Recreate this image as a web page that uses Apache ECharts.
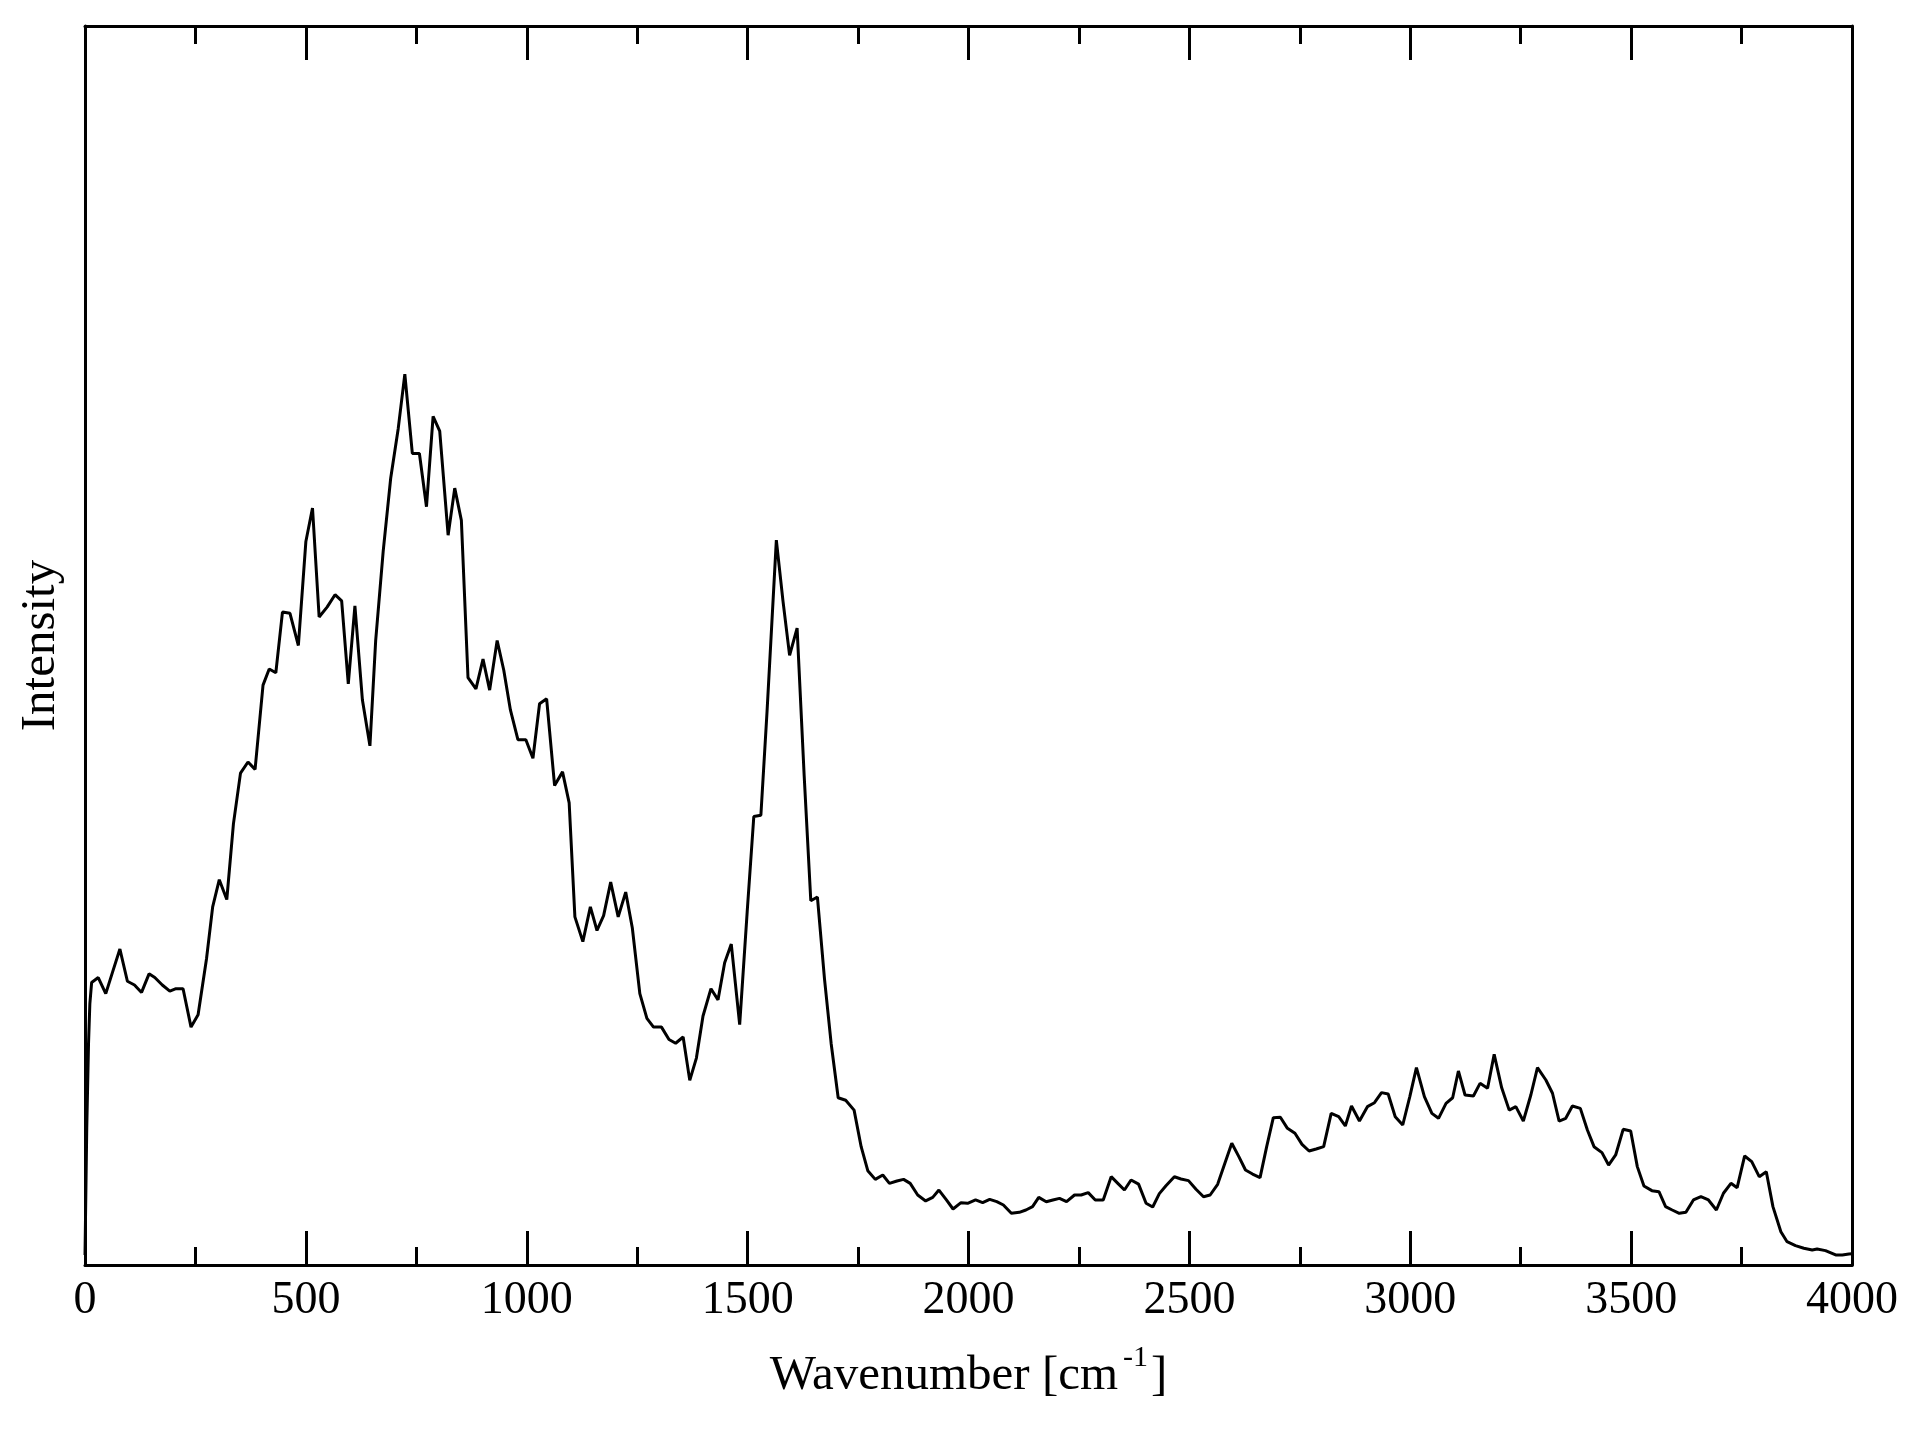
<!DOCTYPE html>
<html>
<head>
<meta charset="utf-8">
<script src="https://cdn.jsdelivr.net/npm/echarts@6/dist/echarts.min.js"></script>
<style>
html,body{margin:0;padding:0;background:#fff;}
#chart{width:1923px;height:1433px;}
</style>
</head>
<body>
<div id="chart"></div>
<script>
// Wavenumber positions [cm^-1] of the sampled spectrum points
const wavenumber = [0,4,8,11,15,30,47,62,79,96,112,128,145,158,175,192,206,222,240,256,
275,289,304,321,336,352,369,385,403,417,432,447,464,483,500,515,530,548,566,581,
596,611,628,645,658,675,692,709,724,741,757,773,788,803,822,837,852,867,885,901,
916,933,948,963,980,998,1014,1029,1045,1063,1081,1096,1109,1127,1144,1159,1174,1190,1207,1224,
1239,1256,1272,1287,1305,1322,1337,1354,1369,1384,1399,1417,1433,1448,1463,1482,1499,1514,1530,1544,
1565,1580,1595,1612,1628,1643,1658,1674,1689,1705,1722,1741,1757,1772,1789,1806,1821,1838,1853,1868,
1885,1903,1919,1933,1950,1965,1983,1998,2016,2032,2048,2064,2079,2097,2115,2130,2145,2159,2176,2191,
2206,2222,2240,2255,2271,2287,2305,2323,2338,2353,2368,2385,2402,2417,2432,2447,2466,2481,2498,2515,
2532,2547,2564,2579,2596,2612,2627,2643,2660,2675,2690,2706,2722,2739,2755,2771,2787,2804,2821,2838,
2853,2867,2885,2903,2919,2935,2950,2966,2983,2999,3014,3032,3049,3064,3081,3096,3109,3124,3143,3158,
3175,3190,3207,3224,3239,3256,3273,3288,3307,3322,3337,3352,3367,3385,3401,3416,3434,3449,3465,3482,
3499,3514,3529,3547,3563,3578,3593,3609,3624,3641,3658,3675,3693,3709,3726,3740,3757,3773,3790,3806,
3821,3839,3853,3872,3891,3910,3921,3940,3963,3978,3993,4000];

// Intensity (arbitrary units, % of plot height)
const intensity = [0.8,11.1,17.9,21.1,22.8,23.2,21.9,23.6,25.5,22.9,22.6,22.0,23.5,23.2,22.6,22.1,22.3,22.3,19.2,20.2,
24.7,28.9,31.1,29.5,35.6,39.7,40.6,40.0,46.8,48.1,47.8,52.7,52.6,50.0,58.4,61.1,52.3,53.1,54.1,53.6,
46.9,53.2,45.6,41.9,50.4,57.6,63.5,67.5,71.9,65.5,65.5,61.2,68.5,67.3,58.9,62.7,60.1,47.4,46.5,48.9,
46.4,50.4,48.0,44.8,42.4,42.4,40.9,45.3,45.7,38.7,39.8,37.3,28.1,26.1,28.9,27.0,28.2,30.9,28.1,30.1,
27.2,21.9,19.9,19.2,19.2,18.2,17.9,18.4,14.9,16.7,20.1,22.3,21.4,24.4,25.9,19.4,28.5,36.2,36.3,44.7,
58.5,53.6,49.2,51.4,39.5,29.4,29.7,23.1,17.9,13.5,13.3,12.5,9.55,7.61,6.91,7.26,6.59,6.78,6.91,6.59,
5.65,5.17,5.46,6.05,5.25,4.52,5.03,4.98,5.25,5.03,5.30,5.11,4.84,4.17,4.25,4.44,4.71,5.46,5.11,5.25,
5.38,5.11,5.65,5.65,5.84,5.25,5.25,7.13,6.59,6.05,6.86,6.53,4.98,4.68,5.76,6.4,7.12,6.94,6.81,6.11,
5.51,5.65,6.51,8.07,9.82,8.75,7.67,7.34,7.05,9.55,11.89,11.92,11.03,10.63,9.74,9.2,9.36,9.55,12.24,11.97,
11.22,12.83,11.62,12.78,13.1,13.91,13.8,11.97,11.3,13.59,15.93,13.59,12.24,11.84,13.05,13.5,15.66,13.72,13.64,14.66,
14.26,17.0,14.3,12.5,12.78,11.62,13.72,15.93,14.93,13.86,11.62,11.84,12.83,12.64,10.9,9.55,9.07,8.07,8.88,10.95,
10.82,7.94,6.38,6.0,5.92,4.71,4.44,4.17,4.25,5.25,5.52,5.25,4.44,5.79,6.59,6.24,8.8,8.34,7.13,7.53,
4.71,2.69,1.88,1.56,1.35,1.21,1.29,1.16,0.81,0.81,0.89,0.9];

const xTickLabels = ['0','500','1000','1500','2000','2500','3000','3500','4000'];
const xName = 'Wavenumber [cm';
const xNameSup = '-1';
const yName = 'Intensity';

const FONT = '"Liberation Serif", "Times New Roman", serif';
const points = wavenumber.map((w, i) => [w, intensity[i]]);

const chart = echarts.init(document.getElementById('chart'), null, {renderer: 'canvas'});
const tickStyle = {color: '#000', width: 3};
chart.setOption({
  backgroundColor: '#fff',
  animation: false,
  grid: {left: 85, right: 71, top: 26, bottom: 168, containLabel: false},
  xAxis: [{
    type: 'value', position: 'bottom', min: 0, max: 4000, interval: 500,
    axisLine: {show: true, onZero: false, lineStyle: tickStyle},
    axisTick: {show: true, inside: true, length: 34, lineStyle: tickStyle},
    minorTick: {show: true, splitNumber: 2, length: 18, lineStyle: tickStyle},
    splitLine: {show: false},
    axisLabel: {
      show: true, margin: 13, color: '#000', fontFamily: FONT, fontSize: 46,
      formatter: function (v) { const i = Math.round(v / 500); return xTickLabels[i] !== undefined ? xTickLabels[i] : ''; }
    },
    name: '{a|' + xName + '}{s|' + xNameSup + '}{a|]}',
    nameLocation: 'middle', nameGap: 78,
    nameTextStyle: {
      rich: {
        a: {fontFamily: FONT, fontSize: 49, color: '#000', lineHeight: 58, verticalAlign: 'bottom'},
        s: {fontFamily: FONT, fontSize: 30, color: '#000', lineHeight: 58, verticalAlign: 'top', padding: [0, 3, 0, 5]}
      }
    }
  }, {
    type: 'value', position: 'top', min: 0, max: 4000, interval: 500,
    axisLine: {show: true, onZero: false, lineStyle: tickStyle},
    axisTick: {show: true, inside: true, length: 34, lineStyle: tickStyle},
    minorTick: {show: true, splitNumber: 2, length: 18, lineStyle: tickStyle},
    splitLine: {show: false},
    axisLabel: {show: false}
  }],
  yAxis: [{
    type: 'value', position: 'left', min: 0, max: 100,
    axisLine: {show: true, onZero: false, lineStyle: tickStyle},
    axisTick: {show: false}, axisLabel: {show: false}, splitLine: {show: false},
    name: yName, nameLocation: 'middle', nameGap: 19, nameRotate: 90,
    nameTextStyle: {fontFamily: FONT, fontSize: 49, color: '#000'}
  }, {
    type: 'value', position: 'right', min: 0, max: 100,
    axisLine: {show: true, onZero: false, lineStyle: tickStyle},
    axisTick: {show: false}, axisLabel: {show: false}, splitLine: {show: false}
  }],
  series: [{
    type: 'line', xAxisIndex: 0, yAxisIndex: 0,
    data: points, showSymbol: false, symbol: 'none',
    lineStyle: {color: '#000', width: 3}, clip: true
  }]
});
</script>
</body>
</html>
